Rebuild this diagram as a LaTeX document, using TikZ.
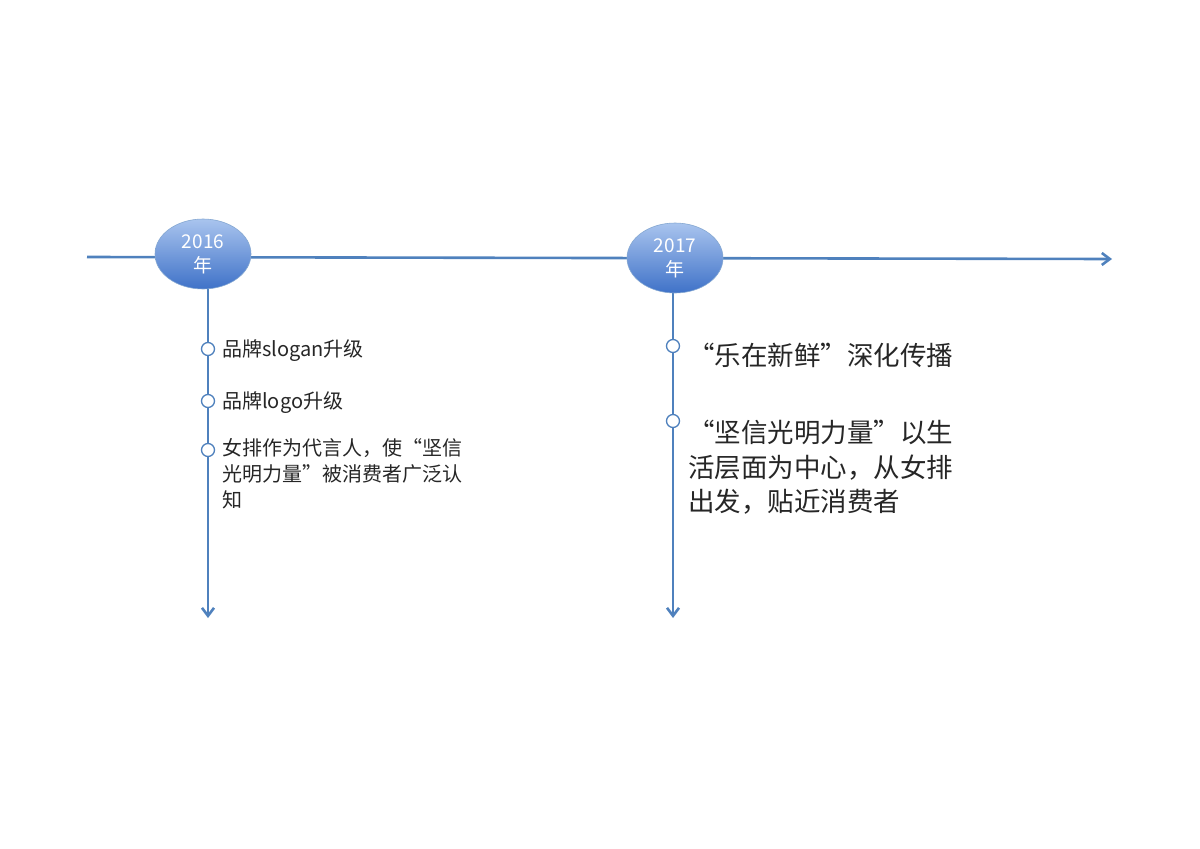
\documentclass[tikz,border=0pt]{standalone}
\usepackage{fontspec}
\setmainfont{Noto Sans CJK SC}
\usetikzlibrary{arrows.meta,shapes.geometric}
\definecolor{ln}{HTML}{4F81BD}
\definecolor{etop}{HTML}{A9C4EE}
\definecolor{ebot}{HTML}{3F72C8}
\tikzset{
 axis/.style={draw=ln,line width=2.6pt,-{Straight Barb[length=8pt,width=12pt]}},
 yr/.style={ellipse,minimum width=96pt,minimum height=70pt,inner sep=0pt,top color=etop,bottom color=ebot,draw=ln!70,line width=0.6pt,text=white,font=\fontsize{19}{24}\selectfont,align=center},
 dot/.style={circle,draw=ln,fill=white,line width=1.3pt,minimum size=13pt,inner sep=0pt},
 sm/.style={anchor=west,font=\fontsize{20}{26}\selectfont,text=black!85,align=left,inner sep=0pt},
 bg/.style={anchor=west,font=\fontsize{26.5}{34.5}\selectfont,text=black!85,align=left,inner sep=0pt}
}
\begin{document}
\begin{tikzpicture}[x=1pt,y=-1pt]
\useasboundingbox (0,0) rectangle (1200,849);
\coordinate (s) at (87,257);
\coordinate (e) at (1112,259);
\draw[axis] (s) -- (e);
\coordinate (b1) at (208,618);
\coordinate (b2) at (673,618);
\draw[axis] (208,280) -- (b1);
\draw[axis] (673,284) -- (b2);
\node[yr] (y1) at (203,254) {2016\\年};
\node[yr] (y2) at (675,258) {2017\\年};
\node[dot] (d1) at (208,349) {};
\node[dot] (d2) at (208,401) {};
\node[dot] (d3) at (208,450) {};
\node[dot] (d4) at (673,346) {};
\node[dot] (d5) at (673,421) {};
\node[sm] at (222,351) {品牌slogan升级};
\node[sm] at (222,403) {品牌logo升级};
\node[sm,anchor=north west] at (222,438) {女排作为代言人，使“坚信\\光明力量”被消费者广泛认\\知};
\node[bg] at (688,355) {“乐在新鲜”深化传播};
\node[bg,anchor=north west] at (688,420) {“坚信光明力量”以生\\活层面为中心，从女排\\出发，贴近消费者};
\end{tikzpicture}
\end{document}
